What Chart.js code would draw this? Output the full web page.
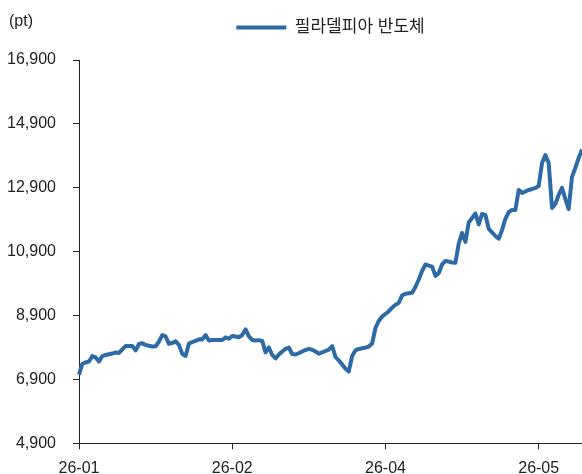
<!DOCTYPE html>
<html><head><meta charset="utf-8">
<script src="https://cdn.jsdelivr.net/npm/chart.js@4/dist/chart.umd.min.js"></script>
<style>html,body{margin:0;padding:0;background:#fff}#wrap{width:582px;height:474px;position:relative}</style>
</head><body><div id="wrap"><canvas id="c" width="582" height="474"></canvas></div>
<script>
const seriesName = '필라델피아 반도체';
const unitLabel = '(pt)';
const tickLabels = ['26-01', '26-02', '26-04', '26-05'];
const tickEvery = 46;
const yTicks = [4900, 6900, 8900, 10900, 12900, 14900, 16900];
const values = [
  7050, 7390, 7430, 7460, 7630, 7590, 7460, 7630, 7665, 7690,
  7710, 7745, 7730, 7840, 7945, 7945, 7945, 7810, 8010, 8030,
  7980, 7955, 7930, 7940, 8080, 8290, 8245, 8015, 8040, 8090,
  7980, 7700, 7635, 8025, 8070, 8105, 8160, 8150, 8290, 8120,
  8135, 8135, 8135, 8135, 8215, 8175, 8260, 8245, 8220, 8290,
  8465, 8245, 8135, 8120, 8130, 8105, 7745, 7900, 7665, 7555,
  7680, 7775, 7855, 7900, 7695, 7680, 7720, 7775, 7820, 7855,
  7830, 7775, 7705, 7745, 7790, 7835, 7945, 7600, 7495, 7370,
  7235, 7150, 7635, 7810, 7855, 7875, 7895, 7930, 8025, 8510,
  8730, 8870, 8950, 9035, 9145, 9235, 9300, 9530, 9580, 9600,
  9615, 9795, 10030, 10295, 10500, 10465, 10430, 10140, 10230, 10500,
  10610, 10590, 10560, 10550, 11155, 11485, 11205, 11815, 11955, 12095,
  11750, 12080, 12050, 11615, 11505, 11390, 11305, 11580, 11925, 12140,
  12205, 12205, 12830, 12735, 12785, 12830, 12860, 12895, 12955, 13675,
  13925, 13675, 12270, 12395, 12675, 12895, 12550, 12235, 13240, 13520,
  13835, 14100
];
const categories = values.map((_, i) => i);

const FONT = '"Liberation Sans", "Noto Sans CJK KR", sans-serif';
const TXT = '#222';
const AX = '#222';

const extras = {
  id: 'extras',
  beforeLayout(chart) {
    const lg = chart.legend;
    if (lg && !lg._patched) {
      const f = lg.fit.bind(lg);
      lg.fit = function () { f(); this.height = 60; };
      lg._patched = true;
    }
  },
  afterDraw(chart) {
    const ctx = chart.ctx;
    ctx.save();
    ctx.font = '16px ' + FONT;
    ctx.fillStyle = TXT;
    ctx.textBaseline = 'middle';
    ctx.textAlign = 'left';
    ctx.fillText(unitLabel, 9, 22);
    ctx.restore();
  }
};

new Chart(document.getElementById('c'), {
  type: 'line',
  data: {
    labels: categories,
    datasets: [{
      label: seriesName,
      data: values,
      borderColor: '#2e6ba6',
      backgroundColor: '#2e6ba6',
      borderWidth: 4,
      pointRadius: 0,
      pointHoverRadius: 0,
      tension: 0,
      fill: false,
      borderJoinStyle: 'round'
    }]
  },
  options: {
    responsive: false,
    devicePixelRatio: 1,
    animation: false,
    layout: { autoPadding: false, padding: { top: 0, left: 0, right: 0, bottom: 0 } },
    plugins: {
      tooltip: { enabled: false },
      legend: {
        position: 'top',
        align: 'center',
        fullSize: false,
        labels: {
          usePointStyle: true,
          pointStyle: 'line',
          pointStyleWidth: 50,
          padding: 19,
          color: TXT,
          font: { family: FONT, size: 17 }
        }
      }
    },
    scales: {
      x: {
        type: 'category',
        offset: false,
        afterFit(s) { s.height = 30.7; s.paddingRight = 0; },
        grid: {
          display: true,
          drawOnChartArea: false,
          drawTicks: true,
          tickLength: 6,
          color: (c) => (c.index % tickEvery === 0 ? AX : 'rgba(0,0,0,0)')
        },
        border: { display: true, color: AX, width: 1 },
        ticks: {
          autoSkip: false,
          maxRotation: 0,
          minRotation: 0,
          padding: 10,
          color: TXT,
          font: { family: FONT, size: 16 },
          callback: (v, i) => (i % tickEvery === 0 ? tickLabels[i / tickEvery] : '')
        }
      },
      y: {
        type: 'linear',
        min: yTicks[0],
        max: yTicks[yTicks.length - 1],
        afterFit(s) { s.width = 79; },
        afterBuildTicks(s) { s.ticks = yTicks.map(v => ({ value: v })); },
        grid: {
          display: true,
          drawOnChartArea: false,
          drawTicks: true,
          tickLength: 6,
          color: AX
        },
        border: { display: true, color: AX, width: 1 },
        ticks: {
          padding: 17,
          color: TXT,
          font: { family: FONT, size: 16 },
          callback: (v) => Number(v).toLocaleString('en-US')
        }
      }
    }
  },
  plugins: [extras]
});
</script>
</body></html>
